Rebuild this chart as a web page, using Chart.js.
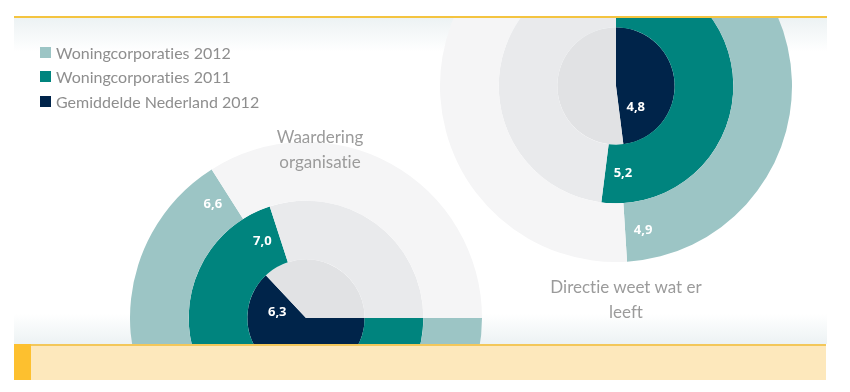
<!DOCTYPE html>
<html>
<head>
<meta charset="utf-8">
<script src="https://cdn.jsdelivr.net/npm/chart.js@4/dist/chart.umd.min.js"></script>
<style>
  html, body { margin: 0; padding: 0; background: #ffffff; }
  body { width: 850px; height: 392px; position: relative; overflow: hidden; font-family: Lato, "Open Sans", sans-serif;
    font-variant-ligatures: none; font-feature-settings: "liga" 0, "clig" 0; }
  .abs { position: absolute; }
  #topline { left: 14px; top: 16px; width: 813px; height: 2px; background: #f4c440; }
  #tophaze { left: 14px; top: 18px; width: 813px; height: 34px;
    background: linear-gradient(to bottom, rgba(214,227,230,0.45), rgba(255,255,255,0)); }
  #bothaze { left: 14px; top: 314px; width: 813px; height: 30px;
    background: linear-gradient(to top, rgba(214,227,230,0.45), rgba(255,255,255,0)); }
  #band { left: 14px; top: 344px; width: 812px; height: 36px; background: #fde8bc; }
  #bandline { left: 14px; top: 344px; width: 812px; height: 2px; background: #f3c75a; }
  #bandblock { left: 14px; top: 344px; width: 17px; height: 36px; background: #fdc02f; }
  .clip { position: absolute; overflow: hidden; }
  .gauge { position: absolute; width: 352px; height: 352px; }
  .legend-item { position: absolute; left: 40px; height: 20px; display: flex; align-items: center;
    font-size: 16px; color: #8e8e8e; font-weight: 400; white-space: nowrap; }
  .legend-item span.sw { display: inline-block; width: 11px; height: 11px; margin-right: 5px; }
  .title { position: absolute; width: 240px; text-align: center; color: #9b9b9b; font-size: 17px; line-height: 24.5px; }
</style>
</head>
<body>
<div id="tophaze" class="abs"></div>
<div id="bothaze" class="abs"></div>

<div class="clip" id="clipRight" style="left:0; top:18px; width:850px; height:326px;">
  <div class="gauge" style="left:440px; top:-108px;"><canvas id="g1" width="352" height="352"></canvas></div>
</div>
<div class="clip" id="clipLeft" style="left:0; top:0; width:850px; height:344px;">
  <div class="gauge" style="left:130px; top:142px;"><canvas id="g0" width="352" height="352"></canvas></div>
</div>

<div id="topline" class="abs"></div>
<div id="band" class="abs"></div>
<div id="bandline" class="abs"></div>
<div id="bandblock" class="abs"></div>

<div id="legend"></div>
<div id="titles"></div>

<script>
// ---- data ----
const categories = [["Waardering", "organisatie"], ["Directie weet wat er", "leeft"]];
const seriesNames = ["Woningcorporaties 2012", "Woningcorporaties 2011", "Gemiddelde Nederland 2012"];
const woningcorporaties2012 = [6.6, 4.9];
const woningcorporaties2011 = [7.0, 5.2];
const gemiddeldeNederland2012 = [6.3, 4.8];
const scaleMax = 10;

// ---- styles ----
const seriesColors = ["#9cc5c5", "#00847e", "#00244a"];
const trackColors = ["#f5f5f6", "#e9eaec", "#e1e2e4"];
const rotations = [90, 0];
const titlePos = [{x: 320, y: 125}, {x: 626, y: 275}];

// legend
const legend = document.getElementById('legend');
seriesNames.forEach((name, i) => {
  const d = document.createElement('div');
  d.className = 'legend-item';
  d.style.top = (42 + i * 24.5) + 'px';
  d.innerHTML = '<span class="sw" style="background:' + seriesColors[i] + '"></span>';
  d.appendChild(document.createTextNode(name));
  legend.appendChild(d);
});

// titles
const titles = document.getElementById('titles');
categories.forEach((lines, i) => {
  const t = document.createElement('div');
  t.className = 'title';
  t.style.left = (titlePos[i].x - 120) + 'px';
  t.style.top = titlePos[i].y + 'px';
  lines.forEach((ln, k) => {
    if (k) t.appendChild(document.createElement('br'));
    t.appendChild(document.createTextNode(ln));
  });
  titles.appendChild(t);
});

const valueLabels = {
  id: 'valueLabels',
  afterDatasetsDraw(chart) {
    const ctx = chart.ctx;
    ctx.save();
    ctx.fillStyle = '#ffffff';
    ctx.font = 'bold 13px "Open Sans", Lato, sans-serif';
    ctx.textAlign = 'center';
    ctx.textBaseline = 'middle';
    chart.data.datasets.forEach((ds, di) => {
      const arc = chart.getDatasetMeta(di).data[0];
      const r = (arc.innerRadius + arc.outerRadius) / 2;
      const a = arc.endAngle - 18 / r;
      const v = ds.data[0];
      ctx.fillText(v.toFixed(1).replace('.', ','), arc.x + Math.cos(a) * r, arc.y + Math.sin(a) * r);
    });
    ctx.restore();
  }
};

[0, 1].forEach(i => {
  const vals = [woningcorporaties2012[i], woningcorporaties2011[i], gemiddeldeNederland2012[i]];
  new Chart(document.getElementById('g' + i), {
    type: 'doughnut',
    data: {
      labels: ['score', 'rest'],
      datasets: vals.map((v, k) => ({
        label: seriesNames[k],
        data: [v, scaleMax - v],
        backgroundColor: [seriesColors[k], trackColors[k]],
        borderWidth: 0,
        hoverOffset: 0
      }))
    },
    options: {
      responsive: false,
      animation: false,
      cutout: 0,
      rotation: rotations[i],
      layout: { padding: 0 },
      events: [],
      plugins: { legend: { display: false }, tooltip: { enabled: false } }
    },
    plugins: [valueLabels]
  });
});
</script>
</body>
</html>
